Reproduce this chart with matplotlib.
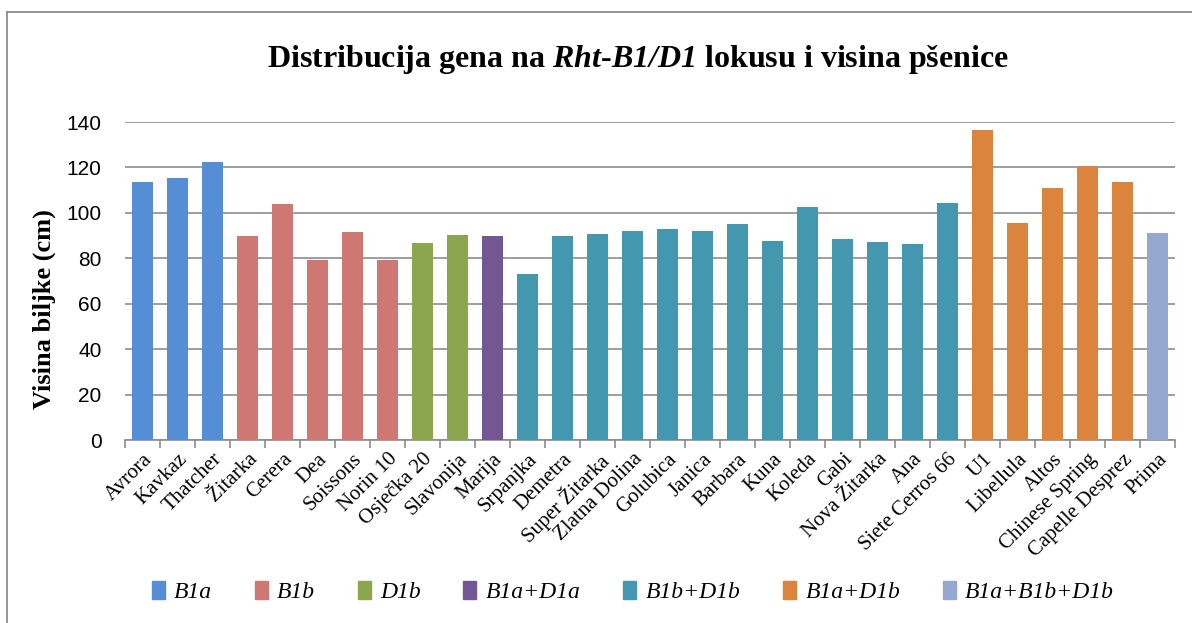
import matplotlib.pyplot as plt
from matplotlib.patches import Patch
from matplotlib.lines import Line2D

# sorte i visina biljke (cm)
sorte = ["Avrora", "Kavkaz", "Thatcher", "Žitarka", "Cerera", "Dea", "Soissons",
         "Norin 10", "Osječka 20", "Slavonija", "Marija", "Srpanjka", "Demetra",
         "Super Žitarka", "Zlatna Dolina", "Golubica", "Janica", "Barbara", "Kuna",
         "Koleda", "Gabi", "Nova Žitarka", "Ana", "Siete Cerros 66", "U1",
         "Libellula", "Altos", "Chinese Spring", "Capelle Desprez", "Prima"]
visina = [113.8, 115.5, 122.6, 90.0, 104.0, 79.3, 91.5, 79.2, 86.7, 90.2, 89.7,
          73.3, 89.9, 90.8, 92.2, 92.8, 91.8, 95.3, 87.4, 102.6, 88.7, 87.0, 86.2,
          104.5, 136.4, 95.7, 111.0, 120.8, 113.8, 91.3]
# genotip za svaku sortu (indeks u listu geni)
genotip = [0, 0, 0, 1, 1, 1, 1, 1, 2, 2, 3, 4, 4, 4, 4, 4, 4, 4, 4, 4, 4, 4, 4,
           4, 5, 5, 5, 5, 5, 6]
geni = ["B1a", "B1b", "D1b", "B1a+D1a", "B1b+D1b", "B1a+D1b", "B1a+B1b+D1b"]
boje = ["#558ED5", "#CF7873", "#8BA64E", "#735792", "#4398AF", "#DB843D", "#95A9D0"]

# kurziv u naslovu (i znamenke) preko mathtext rm fonta
plt.rcParams["mathtext.fontset"] = "custom"
plt.rcParams["mathtext.rm"] = "Liberation Serif:italic:bold"
plt.rcParams["mathtext.it"] = "Liberation Serif:italic:bold"


def main():
    fig = plt.figure(figsize=(11.92, 6.23), dpi=100)
    ax = fig.add_axes([125 / 1192, 1 - 440 / 623, 1050 / 1192, 318 / 623])

    x = list(range(len(sorte)))
    ax.bar(x, visina, width=0.58, color=[boje[g] for g in genotip], zorder=3)

    ax.set_ylim(0, 140)
    ax.set_xlim(-0.5, len(sorte) - 0.5)
    ax.set_yticks(range(0, 141, 20))
    ax.tick_params(axis="y", length=0, labelsize=15, pad=17)
    for t in ax.get_yticklabels():
        t.set_fontfamily("Liberation Sans")
    ax.yaxis.grid(True, color="#8C8C8C", linewidth=1.2, zorder=0)

    ax.set_xticks(x)
    ax.set_xticklabels(sorte, rotation=45, ha="right", rotation_mode="anchor",
                       fontsize=15, fontfamily="Liberation Serif")
    ax.tick_params(axis="x", length=0, pad=7)
    ax.set_xticks([i - 0.5 for i in range(len(sorte) + 1)], minor=True)
    ax.tick_params(axis="x", which="minor", length=6, color="#8C8C8C", width=1.2)

    for s in ["top", "right", "left"]:
        ax.spines[s].set_visible(False)
    ax.spines["bottom"].set_color("#8C8C8C")
    ax.spines["bottom"].set_linewidth(1.2)

    ax.set_ylabel("Visina biljke (cm)", fontsize=19, fontweight="bold",
                  fontfamily="Liberation Serif")
    ax.yaxis.set_label_coords(-0.066, 0.412)

    fig.text(0.535, 0.905, r"Distribucija gena na $\mathrm{Rht}$-$\mathrm{B1/D1}$ lokusu i visina pšenice",
             ha="center", va="center", fontsize=23, fontweight="bold",
             fontfamily="Liberation Serif")

    handles = [Patch(color=boje[i], label=geni[i]) for i in range(len(geni))]
    fig.legend(handles=handles, loc="center", bbox_to_anchor=(0.531, 0.05),
               ncol=len(geni), frameon=False, handlelength=0.55, handleheight=0.8,
               handletextpad=0.4, columnspacing=1.8,
               prop={"family": "Liberation Serif", "style": "italic", "size": 17})

    # okvir grafikona (vidljivi samo gornji i lijevi rub)
    lx, ty = 7.5 / 1192, 1 - 12 / 623
    fig.lines.append(Line2D([lx, lx], [0, ty], transform=fig.transFigure,
                            color="#8C8C8C", linewidth=1.3))
    fig.lines.append(Line2D([lx, 1], [ty, ty], transform=fig.transFigure,
                            color="#8C8C8C", linewidth=1.3))

    fig.savefig("out.png", dpi=100)
    plt.close(fig)


if __name__ == "__main__":
    main()
